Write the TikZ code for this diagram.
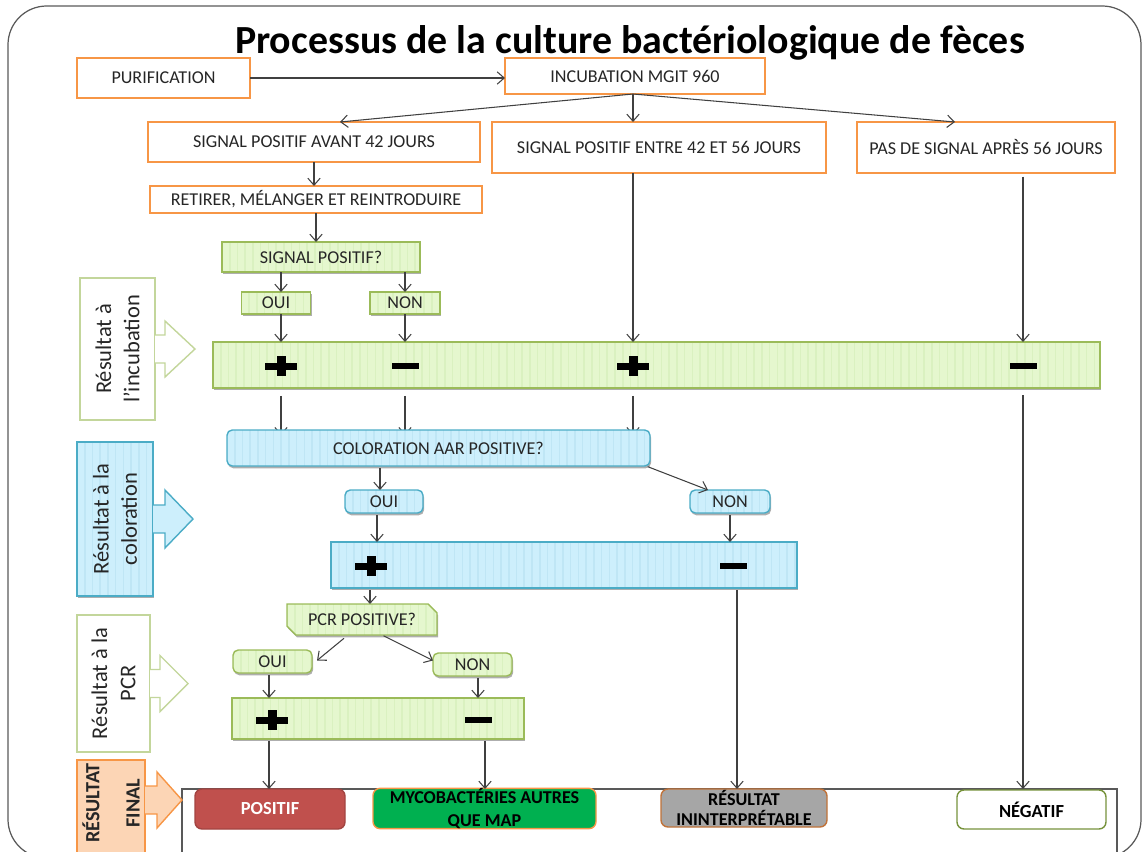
\documentclass[tikz,border=0pt]{standalone}
\usepackage{fontspec}
\setmainfont{Carlito}
\usetikzlibrary{arrows.meta,calc,shadows,shapes.misc,backgrounds}

\newdimen\pxu \pxu=0.02cm

\definecolor{orangeline}{HTML}{F79646}
\definecolor{greenfill}{HTML}{E5F7CE}
\definecolor{greenline}{HTML}{9BBB59}
\definecolor{greenstripe}{HTML}{DAF1C0}
\definecolor{bluefill}{HTML}{CDEFFC}
\definecolor{blueline}{HTML}{4BACC6}
\definecolor{bluestripe}{HTML}{BFE6F5}
\definecolor{palegreenline}{HTML}{C3D69B}
\definecolor{peachfill}{HTML}{FCD5B5}
\definecolor{redfill}{HTML}{C0504D}
\definecolor{mapgreen}{HTML}{00B050}
\definecolor{grayfill}{HTML}{A6A6A6}
\definecolor{brownline}{HTML}{C0733A}
\definecolor{neggreen}{HTML}{77933C}
\definecolor{conn}{HTML}{404040}
\definecolor{frameline}{HTML}{595959}

\tikzset{
  base/.style={inner sep=0pt, outer sep=0pt, font=\fontsize{10.3}{12}\selectfont, text=black!85, align=center},
  vstripes/.style={path picture={
      \foreach \k in {0,...,120}{
        \draw[#1, line width=0.9pt]
          ([xshift=\k*4.4pt]path picture bounding box.south west) --
          ([xshift=\k*4.4pt]path picture bounding box.north west);
      }}},
  shade/.style={drop shadow={opacity=0.45, shadow xshift=0.6pt, shadow yshift=-1.3pt, fill=black!70}},
  obox/.style={base, draw=orangeline, line width=0.8pt, fill=white},
  gbox/.style={base, draw=greenline, line width=0.8pt, fill=greenfill, shade, vstripes=greenstripe},
  bbox/.style={base, draw=blueline, line width=0.8pt, fill=bluefill, rounded corners=3pt, shade, vstripes=bluestripe},
  finbox/.style={base, line width=0.8pt, rounded corners=4pt, font=\bfseries\fontsize{10.5}{12}\selectfont},
  sidelabel/.style={base, line width=0.8pt, rotate=90, font=\fontsize{12.8}{16}\selectfont},
  arr/.style={draw=conn, line width=0.6pt, -{Straight Barb[length=4pt,width=7pt]}},
  plussign/.style={inner sep=0pt, outer sep=0pt, minimum width=34\pxu, minimum height=22\pxu,
    path picture={
      \fill[black] ([shift={(-16,-3.5)}]path picture bounding box.center) rectangle ([shift={(16,3.5)}]path picture bounding box.center);
      \fill[black] ([shift={(-4.5,-10)}]path picture bounding box.center) rectangle ([shift={(4.5,10)}]path picture bounding box.center);}},
  minussign/.style={inner sep=0pt, outer sep=0pt, minimum width=30\pxu, minimum height=10\pxu,
    path picture={
      \fill[black] ([shift={(-13.5,-3)}]path picture bounding box.center) rectangle ([shift={(13.5,3)}]path picture bounding box.center);}},
}

\begin{document}
\begin{tikzpicture}[x=0.02cm, y=-0.02cm]
\useasboundingbox (0,0) rectangle (1143,852);
\clip (0,0) rectangle (1143,852);

% outer frame
\draw[frameline, line width=0.7pt, rounded corners=22pt] (8,6) rectangle (1141,858);

% title
\node[anchor=base, font=\bfseries\fontsize{22.7}{24}\selectfont] (title) at (630,53)
  {Processus de la culture bactériologique de fèces};

% incubation stage
\node[obox, minimum width=173\pxu, minimum height=40\pxu] (pur) at (163.5,78) {PURIFICATION};
\node[obox, minimum width=260\pxu, minimum height=36\pxu] (inc) at (635,76) {INCUBATION MGIT 960};
\node[obox, minimum width=332\pxu, minimum height=40\pxu] (av42) at (314,142) {SIGNAL POSITIF AVANT 42 JOURS};
\node[obox, minimum width=334\pxu, minimum height=51\pxu] (ent) at (659,147.5) {SIGNAL POSITIF ENTRE 42 ET 56 JOURS};
\node[obox, minimum width=258\pxu, minimum height=51\pxu] (pas) at (986,147.5) {PAS DE SIGNAL APRÈS 56 JOURS};
\node[obox, minimum width=332\pxu, minimum height=27\pxu] (ret) at (316,199.5) {RETIRER, MÉLANGER ET REINTRODUIRE};

\node[gbox, minimum width=198\pxu, minimum height=30\pxu] (sp) at (321,257) {SIGNAL POSITIF?};
\node[gbox, minimum width=69\pxu, minimum height=22\pxu] (oui1) at (276,303) {OUI};
\node[gbox, minimum width=70\pxu, minimum height=22\pxu] (non1) at (405,303) {NON};
\node[gbox, minimum width=887\pxu, minimum height=46\pxu] (bar1) at (656.5,365) {};
\node[plussign] (s1) at (281,366) {};
\node[minussign] (s2) at (405,366) {};
\node[plussign] (s3) at (633,366) {};
\node[minussign] (s4) at (1023,366) {};

% coloration stage
\node[bbox, minimum width=423\pxu, minimum height=36\pxu] (col) at (438.5,448) {COLORATION AAR POSITIVE?};
\node[bbox, minimum width=78\pxu, minimum height=23\pxu] (oui2) at (384,501.5) {OUI};
\node[bbox, minimum width=80\pxu, minimum height=23\pxu] (non2) at (730,501.5) {NON};
\node[bbox, rounded corners=0pt, minimum width=466\pxu, minimum height=46\pxu] (bar2) at (564,565) {};
\node[plussign] (s5) at (371,566) {};
\node[minussign] (s6) at (733,566) {};

% PCR stage
\node[gbox, chamfered rectangle, chamfered rectangle corners={north east,south west},
      chamfered rectangle xsep=2.5pt, chamfered rectangle ysep=2.5pt,
      minimum width=150\pxu, minimum height=31\pxu] (pcr) at (362,619.5) {PCR POSITIVE?};
\node[gbox, rounded corners=3pt, minimum width=79\pxu, minimum height=23\pxu] (oui3) at (272.5,661.5) {OUI};
\node[gbox, rounded corners=3pt, minimum width=79\pxu, minimum height=23\pxu] (non3) at (472.5,664.5) {NON};
\node[gbox, minimum width=292\pxu, minimum height=41\pxu] (bar3) at (378,718.5) {};
\node[plussign] (s7) at (272,720) {};
\node[minussign] (s8) at (478,720) {};

% final results
\node[base, draw=frameline, line width=0.8pt, minimum width=935\pxu, minimum height=91\pxu] (fin) at (649.5,834.5) {};
\node[finbox, fill=redfill, draw=redfill!85!black, text=white, minimum width=150\pxu, minimum height=40\pxu] (pos) at (270,809) {POSITIF};
\node[finbox, fill=mapgreen, draw=orangeline, text=black, font=\bfseries\fontsize{10.3}{13}\selectfont, minimum width=223\pxu, minimum height=39\pxu] (myc) at (484.5,808.5) {MYCOBACTÉRIES AUTRES\\QUE MAP};
\node[finbox, fill=grayfill, draw=brownline, text=black, font=\bfseries\fontsize{10.3}{11.5}\selectfont, minimum width=166\pxu, minimum height=38\pxu] (res) at (744,808) {RÉSULTAT\\ININTERPRÉTABLE};
\node[finbox, fill=white, draw=neggreen, text=black, minimum width=149\pxu, minimum height=39\pxu] (neg) at (1031.5,809.5) {NÉGATIF};

% side labels with their block arrows
\node[base, draw=palegreenline, fill=white, line width=0.8pt, minimum width=75\pxu, minimum height=142\pxu] (lab1) at (117.5,349) {};
\node[sidelabel] at (lab1) {Résultat à\\l’incubation};
\draw[draw=palegreenline, fill=white, line width=0.8pt] ($(lab1.east)+(0,-14)$) -- ++(10,0) -- ++(0,-14) -- ++(30,28) -- ++(-30,28) -- ++(0,-14) -- ++(-10,0);

\node[base, draw=blueline, fill=bluefill, line width=0.8pt, shade, vstripes=bluestripe, minimum width=76\pxu, minimum height=154\pxu] (lab2) at (115,519) {};
\node[sidelabel] at (lab2) {Résultat à la\\coloration};
\draw[draw=blueline, fill=bluefill, line width=0.8pt] ($(lab2.east)+(0,-14)$) -- ++(12,0) -- ++(0,-15) -- ++(28,29) -- ++(-28,29) -- ++(0,-15) -- ++(-12,0);

\node[base, draw=palegreenline, fill=white, line width=0.8pt, minimum width=73\pxu, minimum height=137\pxu] (lab3) at (113.5,683.5) {};
\node[sidelabel] at (lab3) {Résultat à la\\PCR};
\draw[draw=palegreenline, fill=white, line width=0.8pt] ($(lab3.east)+(0,-14)$) -- ++(10,0) -- ++(0,-14) -- ++(28,28) -- ++(-28,28) -- ++(0,-14) -- ++(-10,0);

\node[base, draw=orangeline, fill=peachfill, line width=0.8pt, minimum width=68\pxu, minimum height=120\pxu] (lab4) at (111,820) {};
\node[sidelabel, font=\bfseries\fontsize{11.5}{23}\selectfont] (lab4t) at (111,803) {RÉSULTAT\\FINAL};
\draw[draw=orangeline, fill=peachfill, line width=0.8pt] ($(lab4.east |- lab4t)+(0,-17)$) -- ++(12,0) -- ++(0,-14) -- ++(25,28) -- ++(-25,28) -- ++(0,-14) -- ++(-12,0);

% connectors
\draw[arr] (pur.east |- 0,78) -- (inc.west |- 0,78);
\draw[arr] ([xshift=-2\pxu]inc.south) -- ([xshift=26\pxu]av42.north);
\draw[arr] ([xshift=-2\pxu]inc.south) -- ([xshift=-2\pxu]inc.south |- ent.north);
\draw[arr] ([xshift=-2\pxu]inc.south) -- ([xshift=-31\pxu]pas.north);
\draw[arr] (av42.south) -- (av42.south |- ret.north);
\draw[arr] (ret.south) -- (ret.south |- sp.north);
\draw[arr] (s1 |- sp.south) -- (s1 |- oui1.north);
\draw[arr] (non1.north |- sp.south) -- (non1.north);
\draw[arr] (s1 |- oui1.south) -- (s1 |- bar1.north);
\draw[arr] (non1.south) -- (non1.south |- bar1.north);
\draw[arr] (s3 |- ent.south) -- (s3 |- bar1.north);
\draw[arr, shorten <=2pt] (s4 |- pas.south) -- (s4 |- bar1.north);

\begin{scope}[on background layer]
\draw[arr, shorten <=4.5pt, shorten >=-3pt] (s1 |- bar1.south) -- (s1 |- col.north);
\draw[arr, shorten <=4.5pt, shorten >=-3pt] (s2 |- bar1.south) -- (s2 |- col.north);
\draw[arr, shorten <=4.5pt, shorten >=-3pt] (s3 |- bar1.south) -- (s3 |- col.north);
\end{scope}

\draw[arr, shorten <=1pt] ([xshift=-4\pxu]oui2.north |- col.south) -- ([xshift=-4\pxu]oui2.north);
\draw[arr, shorten <=1pt] ([xshift=-4\pxu]col.south east) -- ([xshift=-22\pxu]non2.north);
\draw[arr, shorten <=1pt] ([xshift=-7\pxu]oui2.south) -- ([xshift=-7\pxu]oui2.south |- bar2.north);
\draw[arr, shorten <=1pt] (non2.south) -- (non2.south |- bar2.north);

\draw[arr, shorten <=1pt] ([xshift=-1\pxu]s5 |- bar2.south) -- ([xshift=-1\pxu]s5 |- pcr.north);
\draw[arr, shorten <=3pt] ([xshift=-14\pxu]pcr.south) -- ([xshift=5\pxu,yshift=1\pxu]oui3.east);
\draw[arr, shorten <=1pt] ([xshift=20\pxu]pcr.south) -- ([yshift=4\pxu]non3.west);
\draw[arr, shorten <=1pt] ([xshift=-3\pxu]s7 |- oui3.south) -- ([xshift=-3\pxu]s7 |- bar3.north);
\draw[arr, shorten <=1pt] (s8 |- non3.south) -- (s8 |- bar3.north);

\draw[arr, shorten <=1pt] ([xshift=-3\pxu]s7 |- bar3.south) -- ([xshift=-3\pxu]s7 |- fin.north);
\draw[arr, shorten <=1pt] ([xshift=7\pxu]s8 |- bar3.south) -- ([xshift=7\pxu]s8 |- fin.north);
\draw[arr, shorten <=1pt] ([xshift=4\pxu]s6 |- bar2.south) -- ([xshift=4\pxu]s6 |- fin.north);
\draw[arr, shorten <=4pt] (s4 |- bar1.south) -- (s4 |- fin.north);
\end{tikzpicture}
\end{document}
